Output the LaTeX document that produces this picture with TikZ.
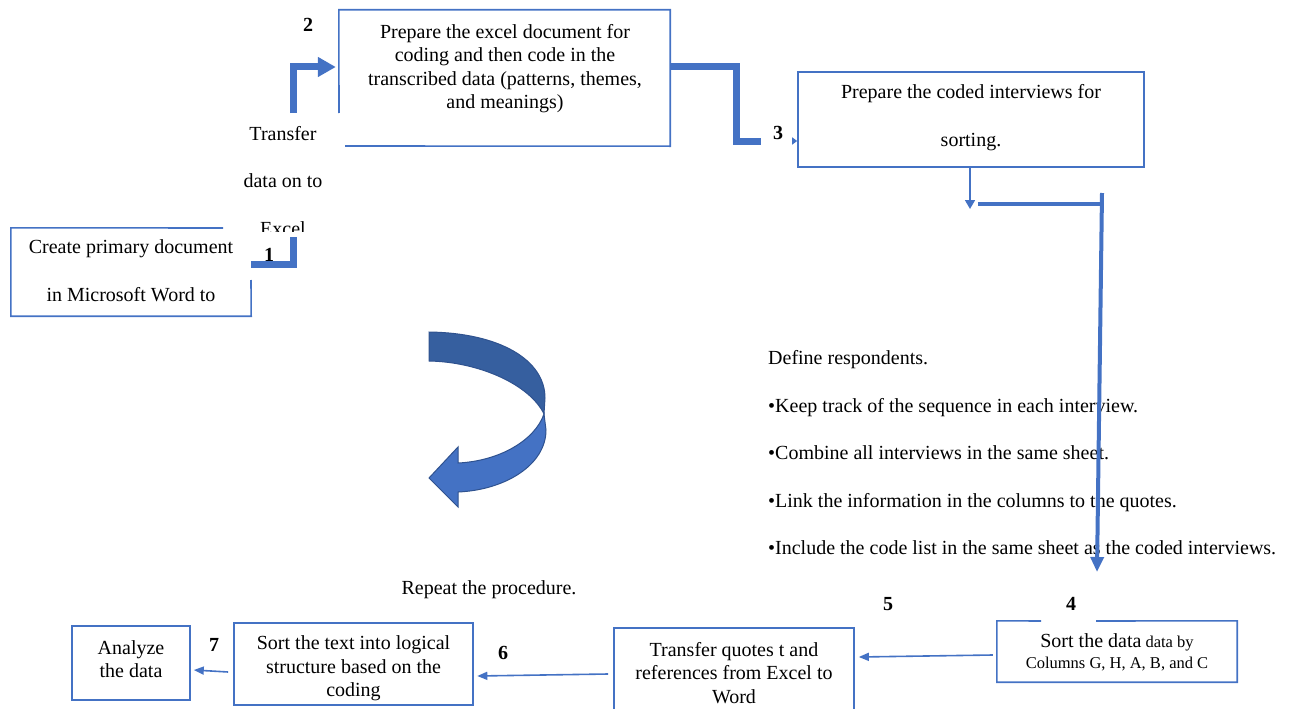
\documentclass[tikz,border=0pt]{standalone}
\usepackage{fontspec}
\setmainfont{Liberation Serif}
\usetikzlibrary{arrows.meta}
\definecolor{accent}{HTML}{4472C4}
\definecolor{accentdark}{HTML}{365F9F}
\definecolor{accentline}{HTML}{2F528F}
\tikzset{
  box/.style={draw=accent, line width=1.6pt, inner sep=0pt},
  frame/.style={draw=none, inner sep=0pt},
  edge/.style={draw=accent, line width=1.6pt},
  txt/.style={font=\fontsize{20}{23.5}\selectfont, align=center, inner sep=0pt},
  wide/.style={font=\fontsize{20}{47.5}\selectfont, align=center, inner sep=0pt},
  num/.style={font=\fontsize{20}{24}\selectfont\bfseries, inner sep=0pt},
  heavy/.style={draw=accent, line width=7pt},
  bar/.style={draw=accent, line width=4pt},
  thinarrow/.style={draw=accent, line width=1.6pt, -{Triangle[length=10pt,width=8pt]}},
}
\begin{document}
\begin{tikzpicture}[x=1pt,y=-1pt]
\useasboundingbox (0,0) rectangle (1296,709);

% ---- step boxes ----
\node[frame, minimum width=240, minimum height=88] (b1) at (131,272) {};
\node[frame, minimum width=331, minimum height=136] (b2) at (504.5,78) {};
\node[box, minimum width=346, minimum height=95] (b3) at (971,119.5) {};
\node[frame, minimum width=240, minimum height=61] (b4) at (1117,651.5) {};
\node[box, minimum width=240, minimum height=92] (b5) at (734,674) {};
\node[box, minimum width=239, minimum height=82] (b6) at (353.5,664) {};
\node[box, minimum width=118, minimum height=74] (b7) at (131,663) {};

% borders partly hidden behind neighbouring text frames
\draw[edge] (223,228) -- (b1.north west) -- (b1.south west) -- (b1.south east) -- (251,280);
\draw[edge] (345,146) -- (b2.south east) -- (b2.north east) -- (b2.north west) -- (339,113);
\draw[edge] (1041,621) -- (b4.north west) -- (b4.south west) -- (b4.south east) -- (b4.north east) -- (1096,621);

% ---- box texts ----
\node[wide] (t1) at (131,270.5) {Create primary document\\in Microsoft Word to};
\node[txt] (t2) at (505,68.5) {Prepare the excel document for\\coding and then code in the\\transcribed data (patterns, themes,\\and meanings)};
\node[wide] (t3) at (971,117.5) {Prepare the coded interviews for\\sorting.};
\node[font=\fontsize{16.5}{21}\selectfont, align=center, inner sep=0pt] (t4) at (1117,652)
  {{\fontsize{20}{21}\selectfont Sort the data} data by\\Columns G, H, A, B, and C};
\node[txt] (t5) at (734,673) {Transfer quotes t and\\references from Excel to\\Word};
\begin{scope}
  \clip (b6.north west) rectangle ([yshift=1pt]b6.south east);
  \node[txt] (t6) at (353.5,668.5) {Sort the text into logical\\structure based on the\\coding};
\end{scope}
\node[txt] (t7) at (131,659) {Analyze\\the data};

% free-standing text frame between steps 1 and 2
\begin{scope}
  \clip (223,113) rectangle (345,231);
  \node[wide] (tr) at (283,181) {Transfer\\data on to\\Excel};
\end{scope}

\node[txt] (rep) at (489,590) {Repeat the procedure.};
\node[font=\fontsize{20}{47.5}\selectfont, align=left, anchor=west, inner sep=0pt] (notes) at (768,453)
  {Define respondents.\\
   •Keep track of the sequence in each interview.\\
   •Combine all interviews in the same sheet.\\
   •Link the information in the columns to the quotes.\\
   •Include the code list in the same sheet as the coded interviews.};

% ---- step numbers ----
\node[num] (n1) at (269,255) {1};
\node[num] (n2) at (308,25) {2};
\node[num] (n3) at (778,133) {3};
\node[num] (n4) at (1071,604) {4};
\node[num] (n5) at (888,604) {5};
\node[num] (n6) at (503,653) {6};
\node[num] (n7) at (214,645) {7};

% ---- connectors ----
\coordinate (a1e) at (293.5,237);
\draw[heavy] ([yshift=8pt]b1.east) -| (a1e);

\coordinate (a2s) at (293.5,113);
\draw[heavy, -{Triangle[length=18pt,width=19pt]}] (a2s) |- ([xshift=-3pt,yshift=11pt]b2.west);

\coordinate (a3c) at (736.5,141.5);
\coordinate (a3e) at (761,141.5);
\draw[heavy] ([yshift=11pt]b2.east) -| (a3c) -- (a3e);
\coordinate (a3t) at (792,141);
\draw[edge, -{Triangle[length=5pt,width=7pt]}] (a3t) -- (b3.west |- a3t);

\coordinate (d3) at (970,209);
\draw[edge, -{Triangle[length=9pt,width=10pt]}] (b3.south -| d3) -- (d3);

\coordinate (k1) at (978,203.5);
\coordinate (k2) at (1102,203.5);
\coordinate (k3) at (1102,193);
\coordinate (k4) at (1097,572);
\draw[bar] (k1) -- (k2);
\draw[bar, -{Triangle[length=15pt,width=13pt]}] (k3) -- (k4);

\draw[thinarrow] ([shift={(-4pt,-3.5pt)}]b4.west) -- ([shift={(4pt,17pt)}]b5.east);
\draw[thinarrow] ([xshift=-5pt]b5.west) -- ([shift={(3.5pt,-12pt)}]b6.east);
\draw[thinarrow] ([shift={(-5pt,-8pt)}]b6.west) -- ([shift={(3pt,-7pt)}]b7.east);

% ---- curved "repeat" arrow ----
\filldraw[fill=accentdark, draw=accentline, line width=1pt]
  (429,332) .. controls (500,333) and (545,360) .. (545,398) -- (544,414)
  .. controls (530,385) and (480,362) .. (429,361) -- cycle;
\filldraw[fill=accent, draw=accentline, line width=1pt]
  (544,414) -- (546,430) .. controls (546,465) and (505,490) .. (458,492)
  -- (458,507) -- (429,478) -- (458,447) -- (458,463)
  .. controls (500,461) and (535,440) .. (544,414) -- cycle;
\end{tikzpicture}
\end{document}
